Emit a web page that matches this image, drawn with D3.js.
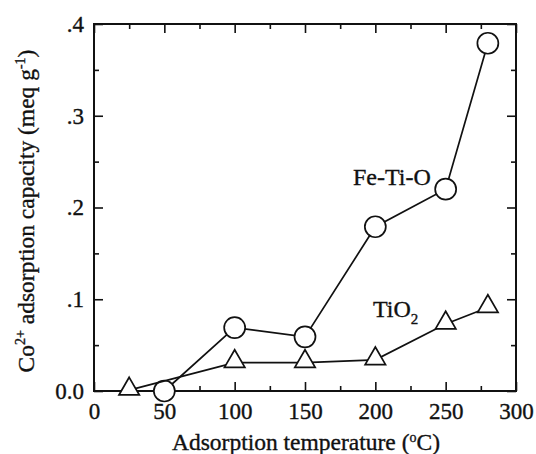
<!DOCTYPE html>
<html>
<head>
<meta charset="utf-8">
<script src="https://cdn.jsdelivr.net/npm/d3@7"></script>
<style>
  body { margin: 0; background: #fff; }
  svg text { font-family: 'Liberation Serif', 'Times New Roman', serif; fill: #111; stroke: #111; stroke-width: 0.35px; }
  .axis path, .axis line { stroke: #111; }
</style>
</head>
<body>
<svg id="chart" width="536" height="454"></svg>
<script>
// Fe-Ti-O (circles)
const feTemps = [50, 100, 150, 200, 250, 280];
const feValues = [0.0, 0.069, 0.059, 0.179, 0.22, 0.379];

// TiO2 (triangles)
const tiTemps = [25, 100, 150, 200, 250, 280];
const tiValues = [0.001, 0.031, 0.031, 0.034, 0.073, 0.091];

const xMajorTicks = [0, 50, 100, 150, 200, 250, 300];
const xMinorTicks = [25, 75, 125, 175, 225, 275];
const yMajorTicks = [0, 0.1, 0.2, 0.3, 0.4];
const yMinorTicks = [0.05, 0.15, 0.25, 0.35];
const yTickLabels = ['0.0', '.1', '.2', '.3', '.4'];

const plotLeft = 94, plotRight = 516, plotTop = 24, plotBottom = 391;
const fontSize = 23;
const titleSize = 23.5;

const svg = d3.select('#chart');

const x = d3.scaleLinear().domain([0, 300]).range([plotLeft, plotRight]);
const y = d3.scaleLinear().domain([0, 0.4]).range([plotBottom, plotTop]);

// frame
svg.append('rect')
  .attr('x', plotLeft)
  .attr('y', plotTop)
  .attr('width', plotRight - plotLeft)
  .attr('height', plotBottom - plotTop)
  .attr('fill', 'none')
  .attr('stroke', '#111')
  .attr('stroke-width', 2);

const majorLen = 9;
const minorLen = 5;

function addAxis(axisFn, scale, ticks, len, pos, labels) {
  const ax = axisFn(scale)
    .tickValues(ticks)
    .tickSize(-len)
    .tickSizeOuter(0)
    .tickPadding(pos === 'bottom' ? 12 : 10);
  if (labels) {
    ax.tickFormat((d, i) => labels[i]);
  } else {
    ax.tickFormat('');
  }
  const g = svg.append('g').attr('class', 'axis');
  if (pos === 'bottom') g.attr('transform', `translate(0,${plotBottom})`);
  if (pos === 'top') g.attr('transform', `translate(0,${plotTop})`);
  if (pos === 'left') g.attr('transform', `translate(${plotLeft},0)`);
  if (pos === 'right') g.attr('transform', `translate(${plotRight},0)`);
  g.call(ax);
  g.select('.domain').remove();
  g.selectAll('line').attr('stroke-width', 1.6);
  g.selectAll('text')
    .style('font-size', fontSize + 'px')
    .attr('fill', '#111');
}

addAxis(d3.axisBottom, x, xMajorTicks, majorLen, 'bottom', xMajorTicks.map(String));
addAxis(d3.axisBottom, x, xMinorTicks, minorLen, 'bottom', null);
addAxis(d3.axisTop, x, xMajorTicks, majorLen, 'top', null);
addAxis(d3.axisTop, x, xMinorTicks, minorLen, 'top', null);
addAxis(d3.axisLeft, y, yMajorTicks, majorLen, 'left', yTickLabels);
addAxis(d3.axisLeft, y, yMinorTicks, minorLen, 'left', null);
addAxis(d3.axisRight, y, yMajorTicks, majorLen, 'right', null);
addAxis(d3.axisRight, y, yMinorTicks, minorLen, 'right', null);

const line = d3.line()
  .x(d => x(d[0]))
  .y(d => y(d[1]));

const feData = feTemps.map((t, i) => [t, feValues[i]]);
const tiData = tiTemps.map((t, i) => [t, tiValues[i]]);

svg.append('path')
  .datum(feData)
  .attr('d', line)
  .attr('fill', 'none')
  .attr('stroke', '#111')
  .attr('stroke-width', 1.7);

// circles
svg.append('g')
  .selectAll('circle')
  .data(feData)
  .join('circle')
  .attr('cx', d => x(d[0]))
  .attr('cy', d => y(d[1]))
  .attr('r', 10.5)
  .attr('fill', '#fff')
  .attr('stroke', '#111')
  .attr('stroke-width', 1.7);

svg.append('path')
  .datum(tiData)
  .attr('d', line)
  .attr('fill', 'none')
  .attr('stroke', '#111')
  .attr('stroke-width', 1.7);

// triangles
const tri = d3.symbol().type(d3.symbolTriangle).size(180);
svg.append('g')
  .selectAll('path')
  .data(tiData)
  .join('path')
  .attr('d', tri)
  .attr('transform', d => `translate(${x(d[0])},${y(d[1]) - 1})`)
  .attr('fill', '#fff')
  .attr('stroke', '#111')
  .attr('stroke-width', 1.7);

// series labels
svg.append('text')
  .attr('x', 353)
  .attr('y', 185)
  .style('font-size', '24px')
  .text('Fe-Ti-O');

const tiLabel = svg.append('text')
  .attr('x', 373)
  .attr('y', 317)
  .style('font-size', '24px');
tiLabel.append('tspan').text('TiO');
tiLabel.append('tspan').attr('dy', 7).style('font-size', '15px').text('2');

// axis titles
const xTitle = svg.append('text')
  .attr('x', 306)
  .attr('y', 450)
  .attr('text-anchor', 'middle')
  .style('font-size', titleSize + 'px');
xTitle.append('tspan').text('Adsorption temperature (');
xTitle.append('tspan').attr('dy', -8).style('font-size', '14px').text('o');
xTitle.append('tspan').attr('dy', 8).text('C)');

const yTitle = svg.append('text')
  .attr('transform', 'translate(34,211) rotate(-90)')
  .attr('text-anchor', 'middle')
  .style('font-size', titleSize + 'px');
yTitle.append('tspan').text('Co');
yTitle.append('tspan').attr('dy', -9).style('font-size', '14px').text('2+');
yTitle.append('tspan').attr('dy', 9).text(' adsorption capacity (meq g');
yTitle.append('tspan').attr('dy', -9).style('font-size', '14px').text('-1');
yTitle.append('tspan').attr('dy', 9).text(')');
</script>
</body>
</html>
